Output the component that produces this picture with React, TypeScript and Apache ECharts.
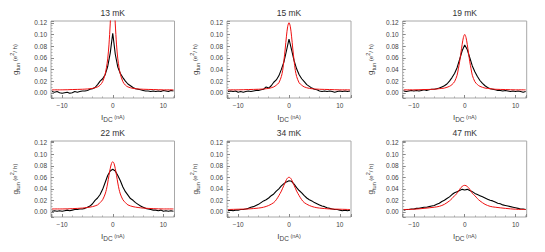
import React, { useEffect, useRef } from "react";
import * as echarts from "echarts";

const TITLES = ["13 mK", "15 mK", "19 mK", "22 mK", "34 mK", "47 mK"];

const X_BLACK = [
  -12, -11.5, -11, -10.5, -10, -9.5, -9, -8.5, -8, -7.5, -7, -6.5, -6, -5.5, -5, -4.5, -4, -3.5, -3, -2.5, -2, -1.5, -1, -0.5,
  0, 0.5, 1, 1.5, 2, 2.5, 3, 3.5, 4, 4.5, 5, 5.5, 6, 6.5, 7, 7.5, 8, 8.5, 9, 9.5, 10, 10.5, 11, 11.5, 12,
];
const X_RED = [-12, -10, -8, -6, -5, -4, -3, -2.5, -2, -1.5, -1.25, -1, -0.75, -0.5, -0.25, 0, 0.25, 0.5, 0.75, 1, 1.25, 1.5, 2, 2.5, 3, 4, 5, 6, 8, 10, 12];

const BLACK_13 = [
  0.002, 0.001, 0.002, 0.0, -0.001, 0.0, 0.001, -0.001, 0.0, 0.002, 0.001, 0.002, 0.003, 0.003, 0.004, 0.006, 0.007, 0.009, 0.014, 0.02, 0.024, 0.031, 0.045, 0.068,
  0.102, 0.066, 0.044, 0.033, 0.026, 0.02, 0.015, 0.012, 0.009, 0.007, 0.006, 0.005, 0.004, 0.003, 0.003, 0.002, 0.003, 0.002, 0.003, 0.002, 0.004, 0.003, 0.002, 0.004, 0.003,
];
const BLACK_15 = [
  0.002, 0.003, 0.002, 0.003, 0.001, 0.002, 0.001, 0.002, 0.003, 0.002, 0.003, 0.004, 0.004, 0.005, 0.006, 0.01, 0.008, 0.012, 0.018, 0.022, 0.029, 0.04, 0.053, 0.072,
  0.092, 0.074, 0.055, 0.041, 0.031, 0.024, 0.019, 0.014, 0.011, 0.008, 0.006, 0.005, 0.003, 0.002, 0.003, 0.002, 0.003, 0.002, 0.001, 0.002, 0.003, 0.002, 0.003, 0.002, 0.003,
];
const BLACK_19 = [
  0.003, 0.002, 0.003, 0.004, 0.003, 0.004, 0.003, 0.004, 0.005, 0.004, 0.005, 0.006, 0.006, 0.007, 0.008, 0.01, 0.012, 0.015, 0.02, 0.026, 0.033, 0.043, 0.057, 0.072,
  0.082, 0.074, 0.06, 0.046, 0.036, 0.028, 0.021, 0.016, 0.012, 0.009, 0.007, 0.006, 0.005, 0.004, 0.004, 0.003, 0.004, 0.003, 0.002, 0.003, 0.002, 0.003, 0.002, 0.001, 0.002,
];
const BLACK_22 = [
  0.001, 0.002, 0.001, 0.002, 0.001, 0.002, 0.003, 0.002, 0.003, 0.004, 0.004, 0.005, 0.005, 0.006, 0.008, 0.01, 0.014, 0.02, 0.024, 0.03, 0.039, 0.051, 0.063, 0.071,
  0.074, 0.071, 0.063, 0.054, 0.043, 0.035, 0.029, 0.023, 0.02, 0.016, 0.013, 0.01, 0.008, 0.006, 0.005, 0.004, 0.003, 0.003, 0.002, 0.003, 0.001, 0.002, 0.001, 0.002, 0.001,
];
const BLACK_34 = [
  0.002, 0.003, 0.002, 0.003, 0.003, 0.004, 0.004, 0.005, 0.006, 0.008, 0.009, 0.011, 0.013, 0.016, 0.019, 0.021, 0.024, 0.028, 0.031, 0.036, 0.04, 0.045, 0.049, 0.052,
  0.054, 0.053, 0.048, 0.042, 0.037, 0.033, 0.028, 0.024, 0.021, 0.019, 0.016, 0.014, 0.012, 0.01, 0.009, 0.007, 0.006, 0.005, 0.004, 0.004, 0.003, 0.002, 0.003, 0.002, 0.003,
];
const BLACK_47 = [
  0.003, 0.004, 0.004, 0.005, 0.005, 0.006, 0.006, 0.007, 0.008, 0.008, 0.009, 0.01, 0.011, 0.013, 0.015, 0.018, 0.02, 0.023, 0.026, 0.03, 0.033, 0.035, 0.037, 0.039,
  0.038, 0.039, 0.037, 0.035, 0.032, 0.03, 0.028, 0.026, 0.024, 0.022, 0.02, 0.019, 0.017, 0.015, 0.014, 0.012, 0.011, 0.01, 0.009, 0.008, 0.007, 0.006, 0.005, 0.005, 0.004,
];

const RED_13 = [0.005, 0.005, 0.0055, 0.006, 0.0065, 0.0075, 0.01, 0.013, 0.019, 0.032, 0.043, 0.058, 0.082, 0.118, 0.16, 0.18, 0.16, 0.118, 0.082, 0.058, 0.043, 0.032, 0.019, 0.013, 0.01, 0.0075, 0.0065, 0.006, 0.0055, 0.005, 0.005];
const RED_15 = [0.005, 0.005, 0.0055, 0.006, 0.0065, 0.0075, 0.01, 0.013, 0.017, 0.028, 0.038, 0.055, 0.075, 0.097, 0.114, 0.12, 0.114, 0.097, 0.075, 0.055, 0.038, 0.028, 0.017, 0.013, 0.01, 0.0075, 0.0065, 0.006, 0.0055, 0.005, 0.005];
const RED_19 = [0.005, 0.005, 0.0055, 0.006, 0.007, 0.008, 0.011, 0.014, 0.019, 0.03, 0.041, 0.053, 0.068, 0.083, 0.095, 0.1, 0.095, 0.083, 0.068, 0.053, 0.041, 0.03, 0.019, 0.014, 0.011, 0.008, 0.007, 0.006, 0.0055, 0.005, 0.005];
const RED_22 = [0.005, 0.005, 0.0055, 0.0065, 0.0075, 0.009, 0.012, 0.016, 0.021, 0.031, 0.039, 0.05, 0.063, 0.075, 0.084, 0.087, 0.084, 0.075, 0.063, 0.05, 0.039, 0.031, 0.021, 0.016, 0.012, 0.009, 0.0075, 0.0065, 0.0055, 0.005, 0.005];
const RED_34 = [0.004, 0.0045, 0.005, 0.0065, 0.008, 0.011, 0.016, 0.021, 0.028, 0.036, 0.041, 0.046, 0.051, 0.056, 0.059, 0.06, 0.059, 0.056, 0.051, 0.046, 0.041, 0.036, 0.028, 0.021, 0.016, 0.011, 0.008, 0.0065, 0.005, 0.0045, 0.004];
const RED_47 = [0.004, 0.0045, 0.006, 0.008, 0.0095, 0.013, 0.019, 0.023, 0.028, 0.032, 0.036, 0.039, 0.042, 0.044, 0.0455, 0.046, 0.0455, 0.044, 0.042, 0.039, 0.036, 0.032, 0.028, 0.023, 0.019, 0.013, 0.0095, 0.008, 0.006, 0.0045, 0.004];

const BLACKS = [BLACK_13, BLACK_15, BLACK_19, BLACK_22, BLACK_34, BLACK_47];
const REDS = [RED_13, RED_15, RED_19, RED_22, RED_34, RED_47];

const FONT = "'Liberation Sans', Arial, sans-serif";
const TXT = "#444";

export default function App() {
  const ref = useRef<HTMLDivElement>(null);
  useEffect(() => {
    const chart = echarts.init(ref.current!, null, { renderer: "svg" });
    const lefts = [51, 227, 402.7];
    const widths = [123.5, 124, 124];
    const tops = [21, 141];
    const heights = [77, 76];
    const titleY = [12.7, 132.7];
    const yNameGaps = [30, 26, 26];

    const grids: any[] = [];
    const xAxes: any[] = [];
    const yAxes: any[] = [];
    const series: any[] = [];
    const graphics: any[] = [];

    for (let i = 0; i < 6; i++) {
      const r = Math.floor(i / 3);
      const c = i % 3;
      grids.push({
        left: lefts[c],
        top: tops[r],
        width: widths[c],
        height: heights[r],
        show: true,
        borderColor: "#a8a8a8",
        borderWidth: 1,
        backgroundColor: "transparent",
      });
      xAxes.push({
        type: "value",
        gridIndex: i,
        position: "bottom",
        min: -12.2,
        max: 12.2,
        splitNumber: 2,
        axisLine: { show: false, onZero: false },
        axisTick: { show: true, inside: true, length: 3, lineStyle: { color: "#888" } },
        minorTick: { show: true, splitNumber: 5, length: 1.5, lineStyle: { color: "#aaa" } },
        splitLine: { show: false },
        axisLabel: {
          showMinLabel: false,
          showMaxLabel: false,
          fontSize: 6.5,
          color: TXT,
          fontFamily: FONT,
          margin: 4,
          formatter: (v: number) => (v < 0 ? "\u2212" + Math.abs(v) : String(v)),
        },
        name: "{i|I}{s|DC}{n| (nA)}",
        nameLocation: "middle",
        nameGap: 13,
        nameTextStyle: {
          fontFamily: FONT,
          color: TXT,
          rich: {
            i: { fontSize: 8, lineHeight: 12, verticalAlign: "middle", fontFamily: FONT, color: TXT },
            s: { fontSize: 6.5, lineHeight: 12, verticalAlign: "bottom", fontFamily: FONT, color: TXT },
            n: { fontSize: 5.5, lineHeight: 12, verticalAlign: "middle", fontFamily: FONT, color: TXT },
          },
        },
      });
      yAxes.push({
        type: "value",
        gridIndex: i,
        position: "left",
        min: -0.009,
        max: 0.123,
        splitNumber: 6,
        axisLine: { show: false, onZero: false },
        axisTick: { show: true, inside: true, length: 3, lineStyle: { color: "#888" } },
        minorTick: { show: true, splitNumber: 4, length: 1.5, lineStyle: { color: "#aaa" } },
        splitLine: { show: false },
        axisLabel: {
          showMinLabel: false,
          showMaxLabel: false,
          fontSize: 6.5,
          color: TXT,
          fontFamily: FONT,
          margin: 4,
          formatter: (v: number) => v.toFixed(2),
        },
        name: "{g|g}{s|tun}{n| (e}{p|2}{n|/ h)}",
        nameLocation: "middle",
        nameRotate: 90,
        nameGap: yNameGaps[c],
        nameTextStyle: {
          fontFamily: FONT,
          color: TXT,
          rich: {
            g: { fontSize: 8, lineHeight: 12, verticalAlign: "middle", fontFamily: FONT, color: TXT },
            s: { fontSize: 5.5, lineHeight: 12, verticalAlign: "bottom", fontFamily: FONT, color: TXT },
            n: { fontSize: 6, lineHeight: 12, verticalAlign: "middle", fontFamily: FONT, color: TXT },
            p: { fontSize: 5.5, lineHeight: 12, verticalAlign: "top", fontFamily: FONT, color: TXT },
          },
        },
      });
      series.push({
        type: "line",
        xAxisIndex: i,
        yAxisIndex: i,
        data: X_BLACK.map((x, j) => [x, BLACKS[i][j]]),
        showSymbol: false,
        symbol: "none",
        lineStyle: { color: "#000", width: 1.1 },
        clip: true,
        z: 2,
      });
      series.push({
        type: "line",
        xAxisIndex: i,
        yAxisIndex: i,
        data: X_RED.map((x, j) => [x, REDS[i][j]]),
        showSymbol: false,
        symbol: "none",
        smooth: 0.3,
        lineStyle: { color: "#f01010", width: 1 },
        clip: true,
        z: 3,
      });
      graphics.push({
        type: "text",
        x: lefts[c] + widths[c] / 2,
        y: titleY[r],
        style: {
          text: TITLES[i],
          fontSize: 8.5,
          fontWeight: "normal",
          fontFamily: FONT,
          fill: "#333",
          align: "center",
          verticalAlign: "middle",
        },
      });
    }

    chart.setOption({
      animation: false,
      backgroundColor: "#fff",
      grid: grids,
      xAxis: xAxes,
      yAxis: yAxes,
      series,
      graphic: graphics,
    });
    return () => chart.dispose();
  }, []);
  return <div ref={ref} style={{ position: "absolute", left: 0, top: 0, width: 545, height: 252 }} />;
}
